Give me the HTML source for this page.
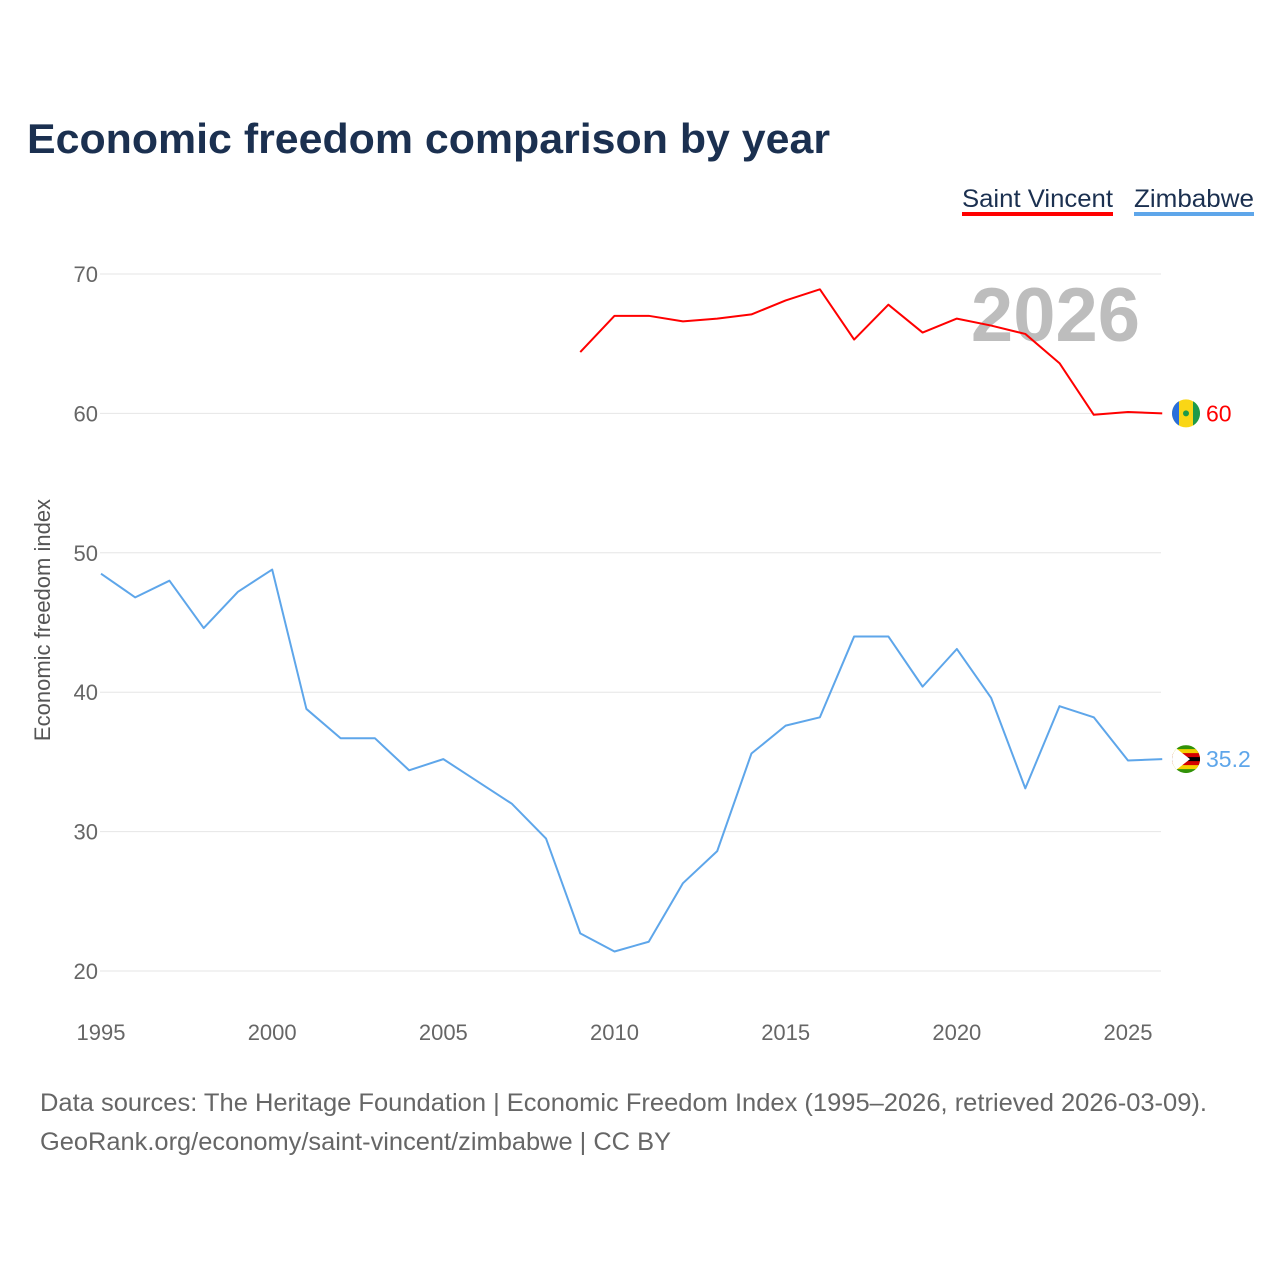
<!DOCTYPE html>
<html><head><meta charset="utf-8">
<style>
body{margin:0;background:#fff;font-family:"Liberation Sans",sans-serif;}
#wrap{position:relative;width:1280px;height:1280px;overflow:hidden;}
</style></head>
<body>
<div id="wrap">
<svg id="chart" width="1280" height="1280" xmlns="http://www.w3.org/2000/svg">
<defs><clipPath id="zc"><circle cx="1186" cy="758" r="14"/></clipPath></defs>
<text x="27" y="153" font-size="42" font-weight="bold" fill="#1b3050" textLength="803" lengthAdjust="spacingAndGlyphs">Economic freedom comparison by year</text>
<g>
<text x="962" y="207" font-size="25" fill="#1b3050" textLength="151" lengthAdjust="spacingAndGlyphs">Saint Vincent</text>
<rect x="962" y="212" width="151" height="4" fill="#ff0000"/>
<text x="1134" y="207" font-size="25" fill="#1b3050" textLength="120" lengthAdjust="spacingAndGlyphs">Zimbabwe</text>
<rect x="1134" y="212" width="120" height="4" fill="#5ea6ea"/>
</g>
<text x="1140" y="341" font-size="76" font-weight="bold" fill="#bdbdbd" text-anchor="end">2026</text>
<g id="grid"></g><g id="axes"></g><g id="series"></g>
<text transform="translate(50,620) rotate(-90)" font-size="22" fill="#555" text-anchor="middle">Economic freedom index</text>
<text x="40" y="1111" font-size="25" fill="#666" textLength="1167" lengthAdjust="spacingAndGlyphs">Data sources: The Heritage Foundation | Economic Freedom Index (1995–2026, retrieved 2026-03-09).</text>
<text x="40" y="1150" font-size="25" fill="#666" textLength="631" lengthAdjust="spacingAndGlyphs">GeoRank.org/economy/saint-vincent/zimbabwe | CC BY</text>
</svg>
</div>
<script>
const years=[1995,1996,1997,1998,1999,2000,2001,2002,2003,2004,2005,2006,2007,2008,2009,2010,2011,2012,2013,2014,2015,2016,2017,2018,2019,2020,2021,2022,2023,2024,2025,2026];
const zimbabwe=[48.5,46.8,48.0,44.6,47.2,48.8,38.8,36.7,36.7,34.4,35.2,33.6,32.0,29.5,22.7,21.4,22.1,26.3,28.6,35.6,37.6,38.2,44.0,44.0,40.4,43.1,39.6,33.1,39.0,38.2,35.1,35.2];
const svYears=[2009,2010,2011,2012,2013,2014,2015,2016,2017,2018,2019,2020,2021,2022,2023,2024,2025,2026];
const saintVincent=[64.4,67.0,67.0,66.6,66.8,67.1,68.1,68.9,65.3,67.8,65.8,66.8,66.3,65.7,63.6,59.9,60.1,60.0];
const yTicks=[20,30,40,50,60,70];
const xTicks=[1995,2000,2005,2010,2015,2020,2025];
const NS='http://www.w3.org/2000/svg';
const X=y=>101+(y-1995)*(1128-101)/30;
const Y=v=>971-(v-20)*(971-274)/50;
function mk(tag,attrs,parent){const e=document.createElementNS(NS,tag);for(const k in attrs)e.setAttribute(k,attrs[k]);parent.appendChild(e);return e;}
const grid=document.getElementById('grid'),axes=document.getElementById('axes'),ser=document.getElementById('series');
yTicks.forEach(t=>{
 const l=mk('line',{x1:100,x2:1161,y1:Y(t),y2:Y(t),stroke:'#e6e6e6','stroke-width':1},grid);
 
 
 const tx=mk('text',{x:98,y:Y(t)+8,'font-size':22,fill:'#666','text-anchor':'end'},axes);
 tx.textContent=t;
 
 
});
xTicks.forEach(t=>{
 const tx=mk('text',{x:X(t),y:1040,'font-size':22,fill:'#666','text-anchor':'middle'},axes);
 tx.textContent=t;
 
 
});
function line(xs,vs,color,name){
 const p=mk('polyline',{points:xs.map((y,i)=>X(y)+','+Y(vs[i])).join(' '),fill:'none',stroke:color,'stroke-width':2,'stroke-linejoin':'round'},ser);
 
 
}
line(svYears,saintVincent,'#ff0000','line-saint-vincent');
line(years,zimbabwe,'#5ea6ea','line-zimbabwe');
const svLast=saintVincent[saintVincent.length-1], zwLast=zimbabwe[zimbabwe.length-1];
const sy=Y(svLast);
const g1=mk('g',{},ser);


mk('circle',{cx:1186,cy:sy,r:14,fill:'#f9d616'},g1);
mk('path',{d:`M1172 ${sy} a14 14 0 0 1 7-12.1 v24.2 a14 14 0 0 1 -7 -12.1z`,fill:'#2a6fdb'},g1);
mk('path',{d:`M1200 ${sy} a14 14 0 0 1 -7 12.1 v-24.2 a14 14 0 0 1 7 12.1z`,fill:'#1e9a4a'},g1);
mk('circle',{cx:1186,cy:sy,r:3,fill:'#1e9a4a'},g1);
const zy=Y(zwLast);
document.querySelector('#zc circle').setAttribute('cy',zy);
const g2=mk('g',{'clip-path':'url(#zc)'},ser);


mk('rect',{x:1172,y:zy-14,width:28,height:28,fill:'#319208'},g2);
mk('rect',{x:1172,y:zy-10,width:28,height:20,fill:'#f4d000'},g2);
mk('rect',{x:1172,y:zy-6,width:28,height:12,fill:'#d40000'},g2);
mk('rect',{x:1172,y:zy-2,width:28,height:4,fill:'#000'},g2);
mk('polygon',{points:`1172,${zy-14} 1190,${zy} 1172,${zy+14}`,fill:'#fff'},g2);
const l1=mk('text',{x:1206,y:sy+8,'font-size':23,fill:'#ff0000'},ser);
l1.textContent=String(svLast===Math.round(svLast)?svLast.toFixed(0):svLast);


const l2=mk('text',{x:1206,y:zy+8,'font-size':23,fill:'#5ea6ea'},ser);
l2.textContent=String(zwLast);


</script>
</body></html>
